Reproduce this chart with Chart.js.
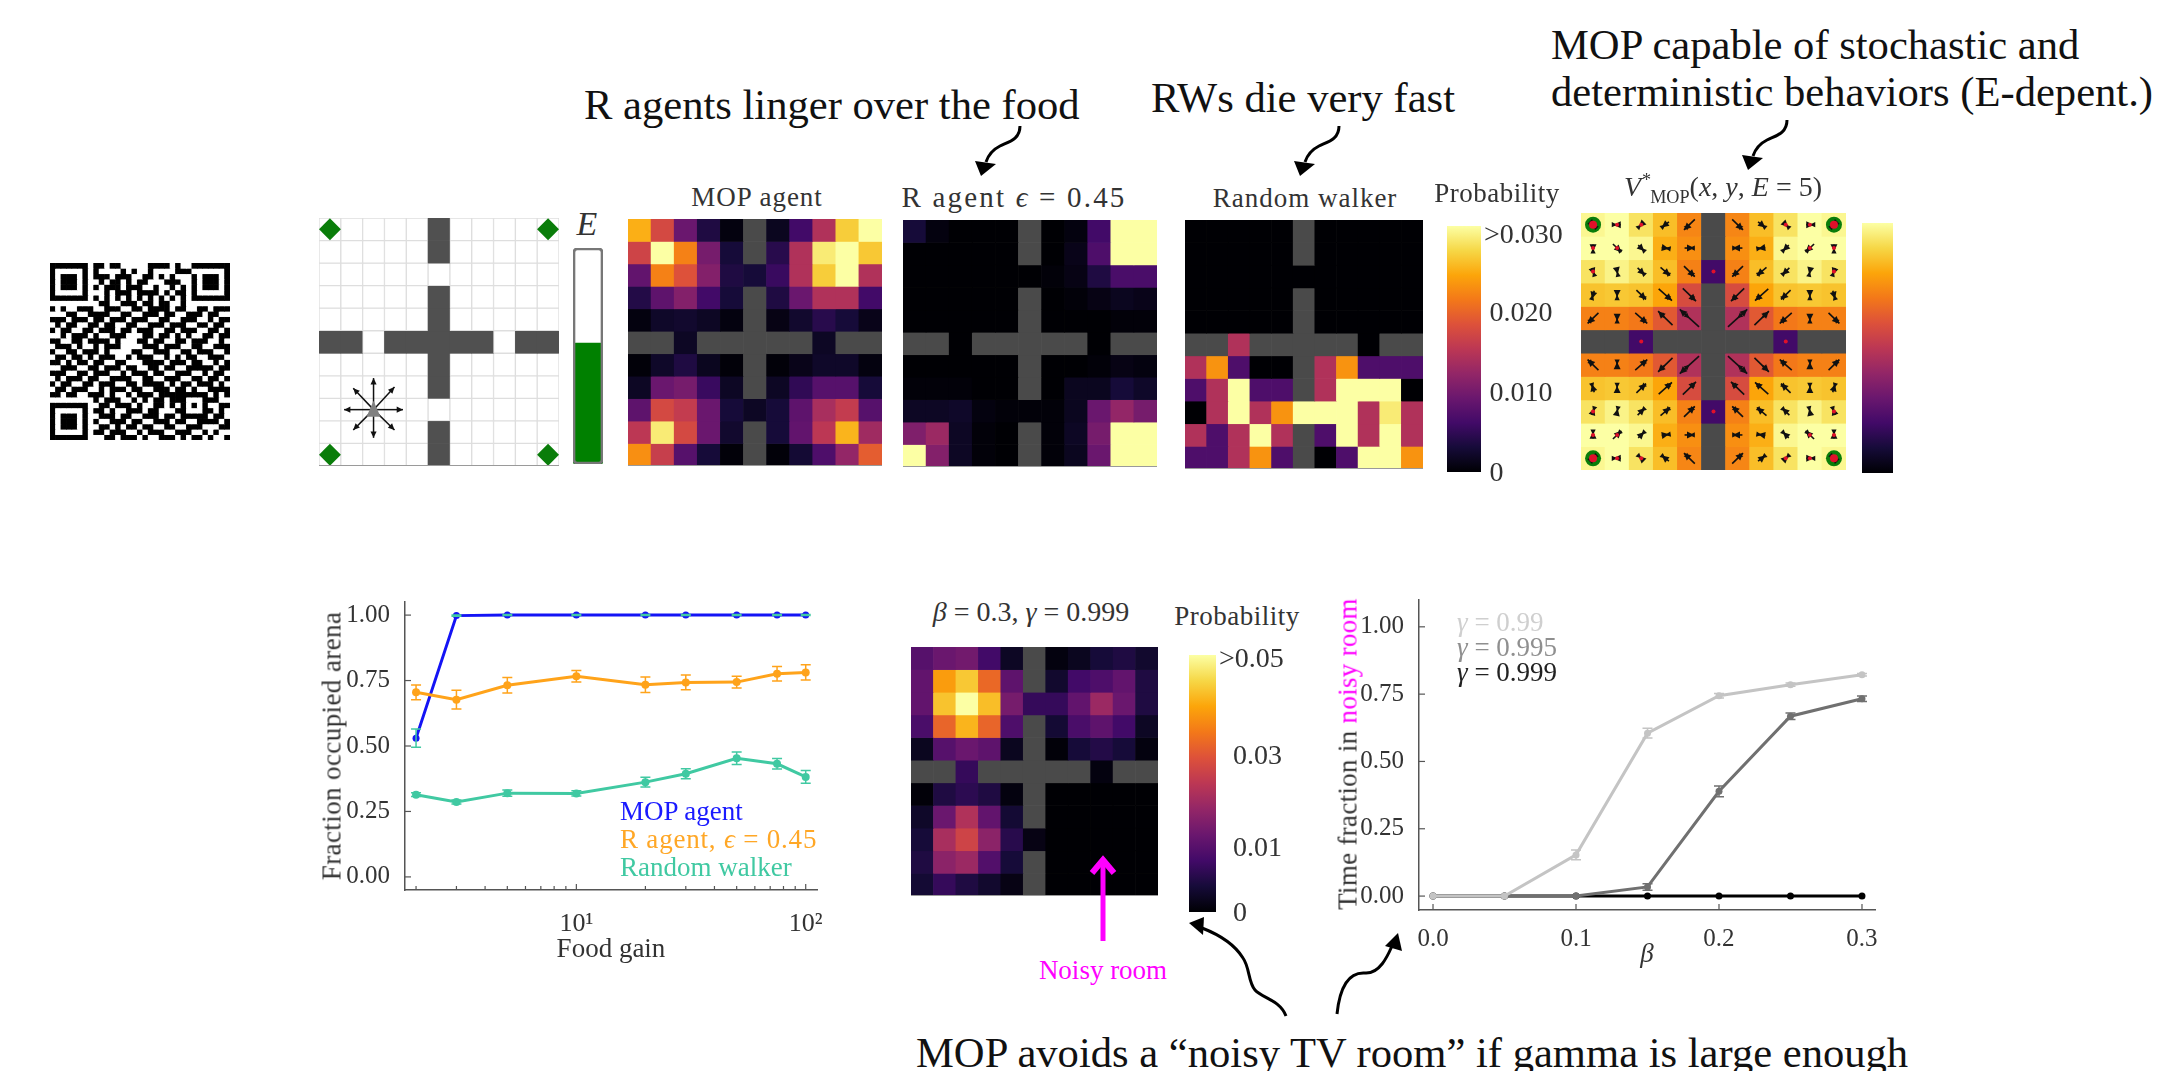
<!DOCTYPE html>
<html>
<head>
<meta charset="utf-8">
<title>MOP figure</title>
<script src="https://cdn.jsdelivr.net/npm/chart.js@4"></script>
<style>
  html, body { margin: 0; padding: 0; background: #fff; }
  #stage { position: relative; width: 2164px; height: 1071px; overflow: hidden; background: #fff;
           font-family: "Liberation Serif", serif; color: #333; filter: blur(0.6px); }
  #stage canvas { position: absolute; }
  .t { position: absolute; white-space: nowrap; transform: translate(-50%, -50%); font-size: 27px; line-height: 1; }
  .l { position: absolute; white-space: nowrap; transform: translate(0, -50%); font-size: 27px; line-height: 1; }
  .note { font-size: 42.6px; color: #111; }
  #arrows { position: absolute; left: 0; top: 0; }
  sup, sub { font-size: 0.65em; line-height: 0; }
</style>
</head>
<body>
<div id="stage">
  <canvas id="qr"></canvas>
  <canvas id="world"></canvas>
  <canvas id="energy"></canvas>
  <canvas id="mop"></canvas>
  <canvas id="ragent"></canvas>
  <canvas id="walker"></canvas>
  <canvas id="cb1"></canvas>
  <canvas id="value"></canvas>
  <canvas id="cb2"></canvas>
  <canvas id="gain"></canvas>
  <canvas id="noisy"></canvas>
  <canvas id="cb3"></canvas>
  <canvas id="fraction"></canvas>

  <div class="l note" style="left:584px;top:105px">R agents linger over the food</div>
  <div class="l note" style="left:1151px;top:98px">RWs die very fast</div>
  <div class="l note" style="left:1551px;top:45px">MOP capable of stochastic and</div>
  <div class="l note" style="left:1551px;top:92px">deterministic behaviors (E-depent.)</div>
  <div class="l note" style="left:916px;top:1053px">MOP avoids a “noisy TV room” if gamma is large enough</div>

  <div class="t" style="left:587px;top:224px;font-size:34px"><i>E</i></div>
  <div class="t" style="left:757px;top:197px;letter-spacing:1px">MOP agent</div>
  <div class="t" style="left:1014px;top:197px;font-size:29px;letter-spacing:2.2px">R agent <i>ϵ</i> = 0.45</div>
  <div class="t" style="left:1305px;top:198px;letter-spacing:1px">Random walker</div>
  <div class="t" style="left:1497px;top:193px;letter-spacing:.5px">Probability</div>
  <div class="t" style="left:1723px;top:187px;font-size:28px"><i>V</i><sup style="position:relative;left:1px">*</sup><sub>MOP</sub>(<i>x</i>, <i>y</i>, <i>E</i> = 5)</div>

  <div class="t" style="left:1031px;top:612px;font-size:28px"><i>β</i> = 0.3, <i>γ</i> = 0.999</div>
  <div class="t" style="left:1237px;top:616px;letter-spacing:.5px">Probability</div>
  <div class="t" style="left:1103px;top:970px;color:#ff00ff">Noisy room</div>

  <div class="t" style="left:332px;top:746px;transform:translate(-50%,-50%) rotate(-90deg);letter-spacing:.4px">Fraction occupied arena</div>
  <div class="t" style="left:611px;top:948px;">Food gain</div>
  <div class="l" style="left:620px;top:811px;color:#1a1aff">MOP agent</div>
  <div class="l" style="left:620px;top:839px;color:#ffa726;letter-spacing:.8px">R agent, <i>ϵ</i> = 0.45</div>
  <div class="l" style="left:620px;top:867px;color:#40c9a2">Random walker</div>

  <div class="t" style="left:1348px;top:754px;transform:translate(-50%,-50%) rotate(-90deg);letter-spacing:.3px">Time fraction in <span style="color:#ff00ff">noisy room</span></div>
  <div class="t" style="left:1647px;top:953px"><i>β</i></div>
  <div class="l" style="left:1457px;top:622px;color:#cfcfcf"><i>γ</i> = 0.99</div>
  <div class="l" style="left:1457px;top:647px;color:#8f8f8f"><i>γ</i> = 0.995</div>
  <div class="l" style="left:1457px;top:672px;color:#222"><i>γ</i> = 0.999</div>

  <svg id="arrows" width="2164" height="1071" fill="none" stroke="#000" stroke-width="3">
    <path d="M1020 126 C1020 140,1008 142,1000 146 C992 150,988 156,986 162"/>
    <path d="M975 161 L996 164 L981 176 Z" fill="#000" stroke="none"/>
    <path d="M1339 126 C1339 140,1327 142,1319 146 C1311 150,1307 156,1305 162"/>
    <path d="M1294 161 L1315 164 L1300 176 Z" fill="#000" stroke="none"/>
    <path d="M1787 120 C1787 134,1775 136,1767 140 C1759 144,1755 150,1753 156"/>
    <path d="M1742 155 L1763 158 L1748 170 Z" fill="#000" stroke="none"/>
    <path d="M1286 1016 C1280 1000,1262 998,1255 990 C1248 982,1250 968,1243 958 C1235 945,1220 935,1202 928"/>
    <path d="M1189 923 L1204 917 L1203 935 Z" fill="#000" stroke="none"/>
    <path d="M1337 1014 C1340 985,1350 972,1365 973 C1380 974,1388 955,1392 946"/>
    <path d="M1398 933 L1402 951 L1385 946 Z" fill="#000" stroke="none"/>
    <path d="M1103 941 L1103 862" stroke="#ff00ff" stroke-width="5"/>
    <path d="M1092 873 L1103 860 L1114 873" stroke="#ff00ff" stroke-width="6"/>
  </svg>
</div>

<script>
  // Values. Heat maps are 0..1 on the colour bar, null is a wall
  var W = null;

  var mopGrid = [
    [.82,.57,.30,.12,.02,W,.05,.20,.47,.88,1],
    [.55,1,.72,.33,.10,W,.14,.47,.95,1,.87],
    [.28,.72,.60,.36,.12,.10,.18,.47,.88,1,.47],
    [.13,.27,.36,.20,.10,W,.12,.30,.47,.47,.20],
    [.02,.07,.08,.06,.02,W,.03,.08,.14,.10,.04],
    [W,W,.06,W,W,W,W,W,.06,W,W],
    [.01,.07,.12,.05,.01,W,.01,.04,.07,.07,.02],
    [.06,.30,.33,.18,.06,W,.06,.16,.25,.25,.10],
    [.27,.57,.52,.30,.10,.06,.10,.27,.45,.52,.25],
    [.50,.95,.57,.30,.08,W,.10,.28,.50,.83,.43],
    [.75,.53,.25,.10,.01,W,.01,.09,.23,.40,.63]
  ];

  var rAgentGrid = [
    [.10,.02,0,0,0,W,0,.02,.20,1,1],
    [0,0,0,0,0,W,0,.04,.23,1,1],
    [0,0,0,0,0,0,.01,.03,.12,.22,.22],
    [0,0,0,0,0,W,0,.01,.03,.05,.04],
    [0,0,0,0,0,W,0,0,0,.01,.01],
    [W,W,0,W,W,W,W,W,0,W,W],
    [0,0,0,0,0,W,0,0,.01,.03,.02],
    [.01,.01,.01,0,0,W,0,.05,.05,.10,.07],
    [.06,.06,.07,.02,.01,.01,.01,.05,.30,.40,.33],
    [.35,.42,.06,.01,0,W,.01,.06,.33,1,1],
    [1,.36,.06,.01,0,W,.01,.05,.30,1,1]
  ];

  var walkerGrid = [
    [0,0,0,0,0,W,0,0,0,0,0],
    [0,0,0,0,0,W,0,0,0,0,0],
    [0,0,0,0,0,0,0,0,0,0,0],
    [0,0,0,0,0,W,0,0,0,0,0],
    [0,0,0,0,0,W,0,0,0,0,0],
    [W,W,.47,W,W,W,W,W,0,W,W],
    [.47,.76,.23,0,0,W,.47,.76,.23,.23,.23],
    [.23,.47,1,.23,.23,W,.47,1,1,1,0],
    [0,.47,1,.47,.76,1,1,1,.47,.95,.47],
    [.47,.23,.47,1,.47,W,.23,1,.47,1,.47],
    [.23,.23,.47,.76,.23,W,0,.23,1,1,.76]
  ];

  var valueGrid = [
    [.98,1,.93,.85,.73,W,.73,.85,.93,1,.98],
    [1,1,.98,.82,.75,W,.75,.82,.98,1,1],
    [.93,.97,.93,.85,.72,.20,.72,.85,.93,.97,.93],
    [.86,.87,.86,.80,.58,W,.58,.80,.86,.87,.86],
    [.72,.72,.70,.62,.47,W,.47,.62,.70,.72,.72],
    [W,W,.20,W,W,W,W,W,.20,W,W],
    [.72,.72,.70,.62,.47,W,.47,.62,.70,.72,.72],
    [.86,.87,.86,.80,.58,W,.58,.80,.86,.87,.86],
    [.93,.97,.93,.85,.72,.20,.72,.85,.93,.97,.93],
    [1,1,.98,.82,.75,W,.75,.82,.98,1,1],
    [.98,1,.93,.85,.73,W,.73,.85,.93,1,.98]
  ];

  var noisyGrid = [
    [.25,.30,.32,.20,.06,W,.02,.05,.10,.12,.08],
    [.28,.78,.87,.66,.27,W,.08,.20,.23,.28,.12],
    [.28,.86,1,.85,.33,.17,.17,.28,.42,.30,.12],
    [.22,.65,.83,.65,.23,W,.09,.22,.27,.20,.06],
    [.05,.25,.30,.27,.05,W,.01,.10,.13,.10,.02],
    [W,W,.17,W,W,W,W,W,.02,W,W],
    [.01,.12,.15,.12,.02,W,0,0,0,0,0],
    [.07,.30,.47,.28,.09,W,0,0,0,0,0],
    [.10,.45,.55,.38,.14,.03,0,0,0,0,0],
    [.12,.38,.42,.24,.10,W,0,0,0,0,0],
    [.09,.17,.12,.08,.03,W,0,0,0,0,0]
  ];

  var worldGrid = [
    [0,0,0,0,0,W,0,0,0,0,0],
    [0,0,0,0,0,W,0,0,0,0,0],
    [0,0,0,0,0,0,0,0,0,0,0],
    [0,0,0,0,0,W,0,0,0,0,0],
    [0,0,0,0,0,W,0,0,0,0,0],
    [W,W,0,W,W,W,W,W,0,W,W],
    [0,0,0,0,0,W,0,0,0,0,0],
    [0,0,0,0,0,W,0,0,0,0,0],
    [0,0,0,0,0,0,0,0,0,0,0],
    [0,0,0,0,0,W,0,0,0,0,0],
    [0,0,0,0,0,W,0,0,0,0,0]
  ];

  // policy arrows of the value map, in cell units
  var arrowDx = [
    [.15,-.3,-.2,-.3,-.45,0,.45,.3,.2,.3,-.15],
    [0,.35,.25,.3,.4,0,-.4,-.3,-.25,-.35,0],
    [.1,.05,.3,.4,.45,0,-.45,-.4,-.3,-.05,-.1],
    [-.1,0,.4,.55,.55,0,-.55,-.55,-.4,0,.1],
    [-.45,0,.5,-.6,-.8,0,.8,.6,-.5,0,.45],
    [0,0,0,0,0,0,0,0,0,0,0],
    [-.45,0,.5,-.6,-.8,0,.8,.6,-.5,0,.45],
    [-.1,0,.4,.55,.55,0,-.55,-.55,-.4,0,.1],
    [.1,.05,.3,.4,.45,0,-.45,-.4,-.3,-.05,-.1],
    [0,.35,.25,.3,.4,0,-.4,-.3,-.25,-.35,0],
    [.15,-.3,-.2,-.3,-.45,0,.45,.3,.2,.3,-.15]
  ];
  var arrowDy = [
    [.15,0,.2,.25,.45,0,.45,.25,.2,0,.15],
    [.3,.35,.25,.05,0,0,0,.05,.25,.35,.3],
    [.3,.25,.3,.35,.45,0,.45,.35,.3,.25,.3],
    [.35,.2,.4,.5,.55,0,.55,.5,.4,.2,.35],
    [.45,.25,.45,-.6,-.75,0,-.75,-.6,.45,.25,.45],
    [0,0,0,0,0,0,0,0,0,0,0],
    [-.45,-.25,-.45,.6,.75,0,.75,.6,-.45,-.25,-.45],
    [-.35,-.2,-.4,-.5,-.55,0,-.55,-.5,-.4,-.2,-.35],
    [-.3,-.25,-.3,-.35,-.45,0,-.45,-.35,-.3,-.25,-.3],
    [-.3,-.35,-.25,-.05,0,0,0,-.05,-.25,-.35,-.3],
    [-.15,0,-.2,-.25,-.45,0,-.45,-.25,-.2,0,-.15]
  ];
  var redDotCells = [[0,0],[0,1],[0,2],[0,8],[0,9],[0,10],[1,0],[1,1],[1,9],[1,10],[2,0],[2,10],
                     [2,5],[5,2],[5,8],[8,5],[8,0],[8,10],[9,0],[9,1],[9,9],[9,10],[10,0],[10,1],[10,2],[10,8],[10,9],[10,10]];

  // agent moves drawn on the grid world
  var agentDx = [1.35,.96,0,-.93,-1.35,-.93,0,.96];
  var agentDy = [0,-1,-1.4,-.95,0,.9,1.25,.9];

  var energyLevel = 0.56;

  var foodGain = [2,3,5,10,20,30,50,75,100];
  var mopOccupied = [.53,.998,1,1,1,1,1,1,1];
  var mopErr = [.035,.002,.002,.002,.002,.002,.002,.002,.002];
  var rAgentOccupied = [.705,.677,.732,.766,.734,.743,.744,.776,.781];
  var rAgentErr = [.028,.036,.03,.022,.03,.028,.022,.028,.029];
  var walkerOccupied = [.314,.286,.32,.319,.362,.394,.453,.432,.382];
  var walkerErr = [.007,.008,.012,.01,.019,.019,.024,.02,.024];
  var gainTicks = [2,3,4,5,6,7,8,9,10,20,30,40,50,60,70,80,90,100];
  var fractionTicksY = [0,.25,.5,.75,1];

  var betas = [0,.05,.1,.15,.2,.25,.3];
  var gamma99 = [0,0,.153,.605,.744,.785,.822];
  var gamma99Err = [0,0,.018,.018,.008,.006,.005];
  var gamma995 = [0,0,0,.034,.389,.668,.733];
  var gamma995Err = [0,0,0,.012,.02,.012,.01];
  var gamma999 = [0,0,0,0,0,0,0];
  var gamma999Err = [0,0,0,0,0,0,0];
  var betaTicks = [0,.1,.2,.3];

  var cb1Labels = ['\u20090', '\u20090.010', '\u20090.020', '>0.030'];
  var cb1Positions = [-.006, .318, .642, .96];
  var cb3Labels = ['\u20020', '\u20020.01', '\u20020.03', '>0.05'];
  var cb3Positions = [-.008, .245, .605, .98];

  var qrRows = [
    "111111101101100000111101001111111",
    "100000101000010100100001110000001",
    "101110101110111001101010001011101",
    "101110100101101011000111001011101",
    "101110101011101110010010101011101",
    "100000100010111011110101101000001",
    "111111101010101010101010101111111",
    "000000000110011101101100100000000",
    "101001110011100110111101100110111",
    "000110011110011001110110011101100",
    "111011101101110111001100111001011",
    "010110011011001100111011100110110",
    "101100110111011011100110111001101",
    "001011101001110001101101010011011",
    "110011011110100011011001101110010",
    "011101001011100001110111001100111",
    "100110111010000110011100110111001",
    "011011010111001011100101011001110",
    "110101101100110001111011101100101",
    "001110011011101100110110011111011",
    "111001101110010111011001110010110",
    "010111011001111001100111001101101",
    "101100110111001101111010110111010",
    "011011100101110110011101101001111",
    "110110011101001011101111111110101",
    "000000001011100101011011100011100",
    "111111100110111010011010101010011",
    "100000101101001110110001100011010",
    "101110100111011001110110111110110",
    "101110101001110110011101100111101",
    "101110100110101101100110011100011",
    "100000101101110010111001110010100",
    "111111100011011101001110101101001"
  ];

  var INFERNO = ['#000004','#160b39','#420a68','#6a176e','#932667','#bc3754','#dd513a','#f37819','#fca50a','#f6d746','#fcffa4'];
  var WALL = '#4a4a4a';

  Chart.defaults.font.family = '"Liberation Serif", serif';
  Chart.defaults.color = '#333';
  Chart.defaults.animation = false;
  Chart.defaults.responsive = false;
  Chart.defaults.plugins.legend.display = false;
  Chart.defaults.plugins.tooltip.enabled = false;

  function hexToRgb(h) {
    return [parseInt(h.substr(1, 2), 16), parseInt(h.substr(3, 2), 16), parseInt(h.substr(5, 2), 16)];
  }

  function inferno(v) {
    if (v === null) return WALL;
    var p = Math.min(v, 1) * 10;
    var i = Math.min(Math.floor(p), 9);
    var a = hexToRgb(INFERNO[i]), b = hexToRgb(INFERNO[i + 1]);
    var f = p - i;
    return 'rgb(' + [0, 1, 2].map(function(k) { return Math.round(a[k] + (b[k] - a[k]) * f); }).join(',') + ')';
  }

  // puts a canvas on the page so that its plot area lands on the given box
  function place(id, box, m) {
    var c = document.getElementById(id);
    c.width = box.w + m.left + m.right;
    c.height = box.h + m.top + m.bottom;
    c.style.left = (box.x - m.left) + 'px';
    c.style.top = (box.y - m.top) + 'px';
    return c;
  }

  var NO_MARGIN = { left: 0, right: 0, top: 0, bottom: 0 };

  // heat map made of floating bars, one dataset per row
  function heatChart(id, box, grid, colorOf, extra) {
    extra = extra || {};
    var nCols = grid[0].length;
    var labels = [];
    for (var k = 0; k < nCols; k++) labels.push(k);
    var datasets = grid.map(function(row, r) {
      var ds = {
        data: row.map(function() { return [r, r + 1]; }),
        backgroundColor: row.map(colorOf),
        barPercentage: 1,
        categoryPercentage: 1,
        grouped: false,
        borderWidth: 0
      };
      if (extra.cellBorder) {
        ds.borderWidth = row.map(function(v) { return v === null ? 0 : 1; });
        ds.borderColor = extra.cellBorder;
        ds.borderSkipped = false;
      }
      return ds;
    });
    (extra.points || []).forEach(function(p) { datasets.push(p); });
    return new Chart(place(id, box, NO_MARGIN), {
      type: 'bar',
      data: { labels: labels, datasets: datasets },
      options: {
        layout: { autoPadding: false },
        scales: {
          x: { display: false },
          y: { display: false, min: 0, max: grid.length, reverse: true }
        }
      },
      plugins: extra.plugins || []
    });
  }

  function drawHead(ctx, x, y, angle, size) {
    ctx.beginPath();
    ctx.moveTo(x, y);
    ctx.lineTo(x - size * Math.cos(angle - .45), y - size * Math.sin(angle - .45));
    ctx.lineTo(x - size * Math.cos(angle + .45), y - size * Math.sin(angle + .45));
    ctx.closePath();
    ctx.fill();
  }

  // policy arrows and red state dots of the value map
  var policyPlugin = {
    id: 'policy',
    afterDatasetsDraw: function(chart) {
      var ctx = chart.ctx, x = chart.scales.x, y = chart.scales.y;
      var cw = x.getPixelForValue(1) - x.getPixelForValue(0);
      var ch = Math.abs(y.getPixelForValue(1) - y.getPixelForValue(0));
      ctx.save();
      arrowDx.forEach(function(row, r) {
        row.forEach(function(dx, c) {
          var dy = arrowDy[r][c];
          if (!dx && !dy) return;
          var cx = x.getPixelForValue(c), cy = y.getPixelForValue(r + .5);
          var ax = dx * cw, ay = dy * ch;
          var ang = Math.atan2(ay, ax);
          ctx.strokeStyle = ctx.fillStyle = '#111';
          ctx.lineWidth = 1.6;
          ctx.beginPath();
          ctx.moveTo(cx - ax / 2, cy - ay / 2);
          ctx.lineTo(cx + ax / 2, cy + ay / 2);
          ctx.stroke();
          drawHead(ctx, cx + ax / 2, cy + ay / 2, ang, 8);
          drawHead(ctx, cx, cy, ang + Math.PI, 6);
        });
      });
      ctx.fillStyle = '#e0102a';
      redDotCells.forEach(function(cell) {
        var r = (cell[0] === 0 || cell[0] === 10) && (cell[1] === 0 || cell[1] === 10) ? 4 : 2;
        ctx.beginPath();
        ctx.arc(x.getPixelForValue(cell[1]), y.getPixelForValue(cell[0] + .5), r, 0, Math.PI * 2);
        ctx.fill();
      });
      ctx.restore();
    }
  };

  // eight move arrows around the agent, triangle on top
  var agentPlugin = {
    id: 'agentMoves',
    afterDatasetsDraw: function(chart) {
      var ctx = chart.ctx, x = chart.scales.x, y = chart.scales.y;
      var cw = x.getPixelForValue(1) - x.getPixelForValue(0);
      var ch = Math.abs(y.getPixelForValue(1) - y.getPixelForValue(0));
      var cx = x.getPixelForValue(2), cy = y.getPixelForValue(8.5);
      ctx.save();
      ctx.strokeStyle = ctx.fillStyle = '#111';
      ctx.lineWidth = 1.5;
      agentDx.forEach(function(dx, i) {
        var ax = dx * cw, ay = agentDy[i] * ch;
        ctx.beginPath();
        ctx.moveTo(cx, cy);
        ctx.lineTo(cx + ax, cy + ay);
        ctx.stroke();
        drawHead(ctx, cx + ax, cy + ay, Math.atan2(ay, ax), 7);
      });
      ctx.fillStyle = '#808080';
      ctx.beginPath();
      ctx.moveTo(cx, cy - 9);
      ctx.lineTo(cx + 7, cy + 7);
      ctx.lineTo(cx - 7, cy + 7);
      ctx.closePath();
      ctx.fill();
      ctx.restore();
    }
  };

  // thin grey edge under the maps
  var framePlugin = {
    id: 'frame',
    afterDraw: function(chart) {
      var a = chart.chartArea, ctx = chart.ctx;
      ctx.save();
      ctx.strokeStyle = '#9a9a9a';
      ctx.lineWidth = 1;
      ctx.beginPath();
      ctx.moveTo(a.left, a.bottom - .5);
      ctx.lineTo(a.right, a.bottom - .5);
      ctx.stroke();
      ctx.restore();
    }
  };

  function colorBar(id, box, margin, labels, positions) {
    var canvas = place(id, box, margin);
    var grad = canvas.getContext('2d').createLinearGradient(0, margin.top + box.h, 0, margin.top);
    INFERNO.forEach(function(col, i) { grad.addColorStop(i / 10, col); });
    new Chart(canvas, {
      type: 'bar',
      data: {
        labels: ['bar'],
        datasets: [{ data: [[0, 1]], backgroundColor: grad, barPercentage: 1, categoryPercentage: 1 }]
      },
      options: {
        layout: { autoPadding: false, padding: { top: margin.top, bottom: margin.bottom, right: 0, left: 0 } },
        scales: {
          x: { display: false },
          y: {
            position: 'right',
            min: 0,
            max: 1,
            grid: { display: false, drawTicks: false },
            border: { display: false },
            afterFit: function(s) { s.width = margin.right; },
            afterBuildTicks: function(s) {
              s.ticks = positions.map(function(p) { return { value: p }; });
            },
            ticks: {
              display: labels.length > 0,
              padding: 3,
              font: { size: 28 },
              color: '#333',
              autoSkip: false,
              callback: function(v) { return labels[positions.indexOf(v)]; }
            }
          }
        }
      }
    });
  }

  // error bars through the chart's own scales
  function errorBars(series) {
    return {
      id: 'errorBars',
      afterDatasetsDraw: function(chart) {
        var ctx = chart.ctx, xs = chart.scales.x, ys = chart.scales.y;
        ctx.save();
        ctx.lineWidth = 1.5;
        series.forEach(function(s) {
          ctx.strokeStyle = s.color;
          s.x.forEach(function(v, i) {
            if (!s.err[i]) return;
            var px = xs.getPixelForValue(v);
            var hi = ys.getPixelForValue(s.y[i] + s.err[i]);
            var lo = ys.getPixelForValue(s.y[i] - s.err[i]);
            ctx.beginPath();
            ctx.moveTo(px, hi); ctx.lineTo(px, lo);
            ctx.moveTo(px - 5, hi); ctx.lineTo(px + 5, hi);
            ctx.moveTo(px - 5, lo); ctx.lineTo(px + 5, lo);
            ctx.stroke();
          });
        });
        ctx.restore();
      }
    };
  }

  // tick marks point into the plot in this figure
  var inwardTicks = {
    id: 'inwardTicks',
    afterDraw: function(chart) {
      var ctx = chart.ctx, a = chart.chartArea;
      ctx.save();
      ctx.strokeStyle = '#555';
      ctx.lineWidth = 1.2;
      chart.scales.x.ticks.forEach(function(t) {
        var px = chart.scales.x.getPixelForValue(t.value);
        var len = t.major === false ? 4 : 6;
        ctx.beginPath(); ctx.moveTo(px, a.bottom); ctx.lineTo(px, a.bottom - len); ctx.stroke();
      });
      chart.scales.y.ticks.forEach(function(t) {
        var py = chart.scales.y.getPixelForValue(t.value);
        ctx.beginPath(); ctx.moveTo(a.left, py); ctx.lineTo(a.left + 6, py); ctx.stroke();
      });
      ctx.restore();
    }
  };

  function lineSet(x, y, color, width, radius) {
    return {
      data: x.map(function(v, i) { return { x: v, y: y[i] }; }),
      borderColor: color,
      backgroundColor: color,
      borderWidth: width,
      pointRadius: radius,
      pointBorderWidth: 0,
      pointHoverRadius: radius,
      tension: 0
    };
  }

  // QR code
  heatChart('qr', { x: 50, y: 263, w: 180, h: 177 }, qrRows.map(function(r) { return r.split('').map(Number); }),
    function(v) { return v ? '#000' : '#fff'; });

  // grid world
  heatChart('world', { x: 319, y: 218, w: 240, h: 248 }, worldGrid,
    function(v) { return v === null ? '#505050' : '#fff'; },
    {
      cellBorder: '#dedede',
      plugins: [framePlugin, agentPlugin],
      points: [
        { type: 'scatter', order: -1, data: [{ x: 0, y: .5 }, { x: 10, y: .5 }, { x: 0, y: 10.5 }, { x: 10, y: 10.5 }],
          pointStyle: 'rectRot', pointRadius: 11, backgroundColor: '#0a7d0a', borderWidth: 0 }
      ]
    });

  // energy bar
  new Chart(place('energy', { x: 573, y: 248, w: 30, h: 216 }, NO_MARGIN), {
    type: 'bar',
    data: {
      labels: ['E'],
      datasets: [
        { data: [[0, energyLevel]], backgroundColor: '#008000', barPercentage: 1, categoryPercentage: 1, grouped: false,
          order: 1, borderRadius: 3, borderSkipped: false },
        { data: [[0, 1]], backgroundColor: 'rgba(0,0,0,0)', borderColor: '#777', borderWidth: 2, barPercentage: 1,
          categoryPercentage: 1, grouped: false, order: 0, borderRadius: 4, borderSkipped: false }
      ]
    },
    options: { scales: { x: { display: false }, y: { display: false, min: 0, max: 1 } } }
  });

  // occupancy maps
  heatChart('mop', { x: 628, y: 219, w: 254, h: 247 }, mopGrid, inferno, { plugins: [framePlugin] });
  heatChart('ragent', { x: 903, y: 220, w: 254, h: 247 }, rAgentGrid, inferno, { plugins: [framePlugin] });
  heatChart('walker', { x: 1185, y: 220, w: 238, h: 249 }, walkerGrid, inferno, { plugins: [framePlugin] });
  colorBar('cb1', { x: 1447, y: 226, w: 34, h: 246 }, { left: 0, top: 20, bottom: 20, right: 96 }, cb1Labels, cb1Positions);

  // value map with policy arrows
  heatChart('value', { x: 1581, y: 213, w: 265, h: 257 }, valueGrid, inferno, {
    plugins: [policyPlugin],
    points: [
      { type: 'scatter', order: -1, data: [{ x: 0, y: .5 }, { x: 10, y: .5 }, { x: 0, y: 10.5 }, { x: 10, y: 10.5 }],
        pointStyle: 'circle', pointRadius: 8, backgroundColor: '#0a7d0a', borderWidth: 0 }
    ]
  });
  colorBar('cb2', { x: 1862, y: 223, w: 31, h: 250 }, { left: 0, top: 0, bottom: 0, right: 2 }, [], []);

  // fraction of occupied arena against food gain
  var gainBox = { x: 405, y: 600, w: 412, h: 290 };
  var gainMargin = { left: 80, right: 30, top: 20, bottom: 50 };
  new Chart(place('gain', gainBox, gainMargin), {
    type: 'line',
    data: {
      datasets: [
        lineSet(foodGain, walkerOccupied, '#40c9a2', 3, 4),
        lineSet(foodGain, rAgentOccupied, '#ffa31a', 3, 4),
        lineSet(foodGain, mopOccupied, '#1414f5', 3, 3.5)
      ]
    },
    options: {
      layout: { autoPadding: false, padding: { top: gainMargin.top, right: gainMargin.right, left: 0, bottom: 0 } },
      scales: {
        x: {
          type: 'logarithmic',
          min: 1.79,
          max: 112,
          grid: { display: false },
          border: { color: '#555', width: 1.5 },
          afterFit: function(s) { s.height = gainMargin.bottom; },
          afterBuildTicks: function(s) {
            s.ticks = gainTicks.map(function(v) { return { value: v, major: v === 10 || v === 100 }; });
          },
          ticks: {
            autoSkip: false,
            maxRotation: 0,
            padding: 11,
            font: { size: 26 },
            callback: function(v) { return v === 10 ? '10\u00b9' : v === 100 ? '10\u00b2' : ''; }
          }
        },
        y: {
          min: -.05,
          max: 1.05,
          grid: { display: false },
          border: { color: '#555', width: 1.5 },
          afterFit: function(s) { s.width = gainMargin.left; },
          afterBuildTicks: function(s) {
            s.ticks = fractionTicksY.map(function(v) { return { value: v }; });
          },
          ticks: {
            padding: 7,
            font: { size: 25 },
            callback: function(v) { return v.toFixed(2); }
          }
        }
      }
    },
    plugins: [inwardTicks, errorBars([
      { x: foodGain, y: walkerOccupied, err: walkerErr, color: '#40c9a2' },
      { x: foodGain, y: rAgentOccupied, err: rAgentErr, color: '#ffa31a' },
      { x: foodGain, y: mopOccupied, err: mopErr, color: '#40c9a2' }
    ])]
  });

  // noisy room map
  heatChart('noisy', { x: 911, y: 647, w: 247, h: 249 }, noisyGrid, inferno, { plugins: [framePlugin] });
  colorBar('cb3', { x: 1189, y: 655, w: 27, h: 257 }, { left: 0, top: 20, bottom: 20, right: 96 }, cb3Labels, cb3Positions);

  // time in noisy room against beta
  var fracBox = { x: 1419, y: 598, w: 456, h: 312 };
  var fracMargin = { left: 80, right: 30, top: 20, bottom: 50 };
  new Chart(place('fraction', fracBox, fracMargin), {
    type: 'line',
    data: {
      datasets: [
        lineSet(betas, gamma99, '#c4c4c4', 3, 3.5),
        lineSet(betas, gamma995, '#707070', 3, 3.5),
        lineSet(betas, gamma999, '#000', 3, 3.5)
      ]
    },
    options: {
      layout: { autoPadding: false, padding: { top: fracMargin.top, right: fracMargin.right, left: 0, bottom: 0 } },
      scales: {
        x: {
          type: 'linear',
          min: -.0098,
          max: .3091,
          grid: { display: false },
          border: { color: '#555', width: 1.5 },
          afterFit: function(s) { s.height = fracMargin.bottom; },
          afterBuildTicks: function(s) {
            s.ticks = betaTicks.map(function(v) { return { value: v }; });
          },
          ticks: {
            maxRotation: 0,
            padding: 6,
            font: { size: 25 },
            callback: function(v) { return v.toFixed(1); }
          }
        },
        y: {
          min: -.0517,
          max: 1.0996,
          grid: { display: false },
          border: { color: '#555', width: 1.5 },
          afterFit: function(s) { s.width = fracMargin.left; },
          afterBuildTicks: function(s) {
            s.ticks = fractionTicksY.map(function(v) { return { value: v }; });
          },
          ticks: {
            padding: 7,
            font: { size: 25 },
            callback: function(v) { return v.toFixed(2); }
          }
        }
      }
    },
    plugins: [inwardTicks, errorBars([
      { x: betas, y: gamma99, err: gamma99Err, color: '#c4c4c4' },
      { x: betas, y: gamma995, err: gamma995Err, color: '#707070' },
      { x: betas, y: gamma999, err: gamma999Err, color: '#000' }
    ])]
  });
</script>
</body>
</html>
